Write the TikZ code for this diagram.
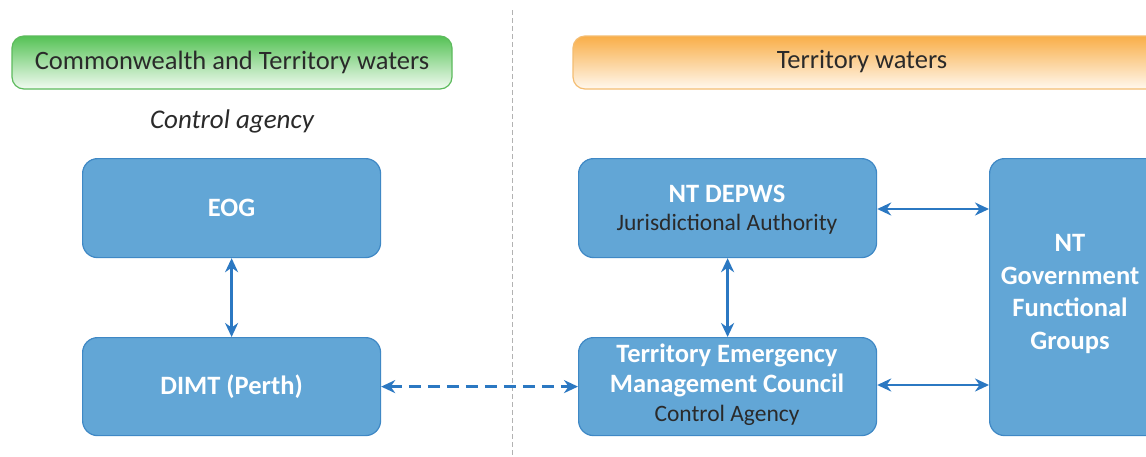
\documentclass[tikz,border=0pt]{standalone}
\usepackage{fontspec}
\setmainfont{Carlito}
\usetikzlibrary{arrows.meta}
\definecolor{boxfill}{HTML}{62A6D6}
\definecolor{boxline}{HTML}{3F88C5}
\definecolor{arr}{HTML}{2B78C2}
\definecolor{txtdark}{HTML}{2A2A2A}
\definecolor{gtop}{HTML}{55C255}
\definecolor{gbot}{HTML}{F2FBF2}
\definecolor{gline}{HTML}{5DBB5D}
\definecolor{otop}{HTML}{F9AE48}
\definecolor{obot}{HTML}{FFF8EE}
\definecolor{oline}{HTML}{F4BD72}
\begin{document}
\begin{tikzpicture}[x=1pt,y=-1pt,
  bluebox/.style={draw=boxline, line width=1.2pt, fill=boxfill, rounded corners=15pt, anchor=north west, inner sep=0pt, align=center, text=white},
  conn/.style={draw=arr, line width=2.4pt, {Stealth[length=14pt,width=13pt]}-{Stealth[length=14pt,width=13pt]}},
  hdr/.style={rounded corners=12pt, line width=1.2pt},
  bt/.style={font=\fontsize{26.5}{30}\selectfont\bfseries},
  st/.style={font=\fontsize{23.5}{26}\selectfont}
]
\useasboundingbox (0,0) rectangle (1146,456);
\fill[white] (0,0) rectangle (1146,456);
% divider
\draw[gray!60, line width=1pt, dash pattern=on 5pt off 3pt] (512,10) -- (512,456);
% headers
\shade[hdr, top color=gtop, bottom color=gbot, draw=gline] (12,36) rectangle (452,89);
\node[font=\fontsize{26.5}{28}\selectfont, text=txtdark] (hl) at (232,62) {Commonwealth and Territory waters};
\shade[hdr, top color=otop, bottom color=obot, draw=oline] (573,36) rectangle (1160,89);
\node[font=\fontsize{26.5}{28}\selectfont, text=txtdark] (hr) at (862,62) {Territory waters};
\node[font=\fontsize{27}{28}\selectfont\itshape, text=txtdark] (ca) at (232,121) {Control agency};
% boxes
\node[bluebox, minimum width=298pt, minimum height=99pt] (eog) at (82,158) {};
\node[bt, text=white] at (eog.center) {EOG};
\node[bluebox, minimum width=298pt, minimum height=98pt] (dimt) at (82,337) {};
\node[bt, text=white] at (dimt.center) {DIMT (Perth)};
\node[bluebox, minimum width=298pt, minimum height=99pt] (dep) at (578,158) {};
\node[bt, text=white] at (727,194) {NT DEPWS};
\node[st, text=txtdark] at (727,224) {Jurisdictional Authority};
\node[bluebox, minimum width=298pt, minimum height=98pt] (temc) at (578,337) {};
\node[bt, text=white] at (727,355) {Territory Emergency};
\node[bt, text=white] at (727,385) {Management Council};
\node[st, text=txtdark] at (727,415) {Control Agency};
\node[bluebox, minimum width=180pt, minimum height=277pt] (ntg) at (989,158) {};
\node[text=white, align=center, font=\fontsize{26.5}{32.7}\selectfont\bfseries] at (1070,294) {NT\\Government\\Functional\\Groups};
% connectors
\draw[conn] (eog.south) -- (dimt.north);
\draw[conn] (dep.south) -- (temc.north);
\draw[conn] (dep.east |- 0,209) -- (ntg.west |- 0,209);
\draw[conn] (temc.east |- 0,385) -- (ntg.west |- 0,385);
\draw[conn, dash pattern=on 12pt off 7pt] (dimt.east) -- (temc.west);
\end{tikzpicture}
\end{document}
